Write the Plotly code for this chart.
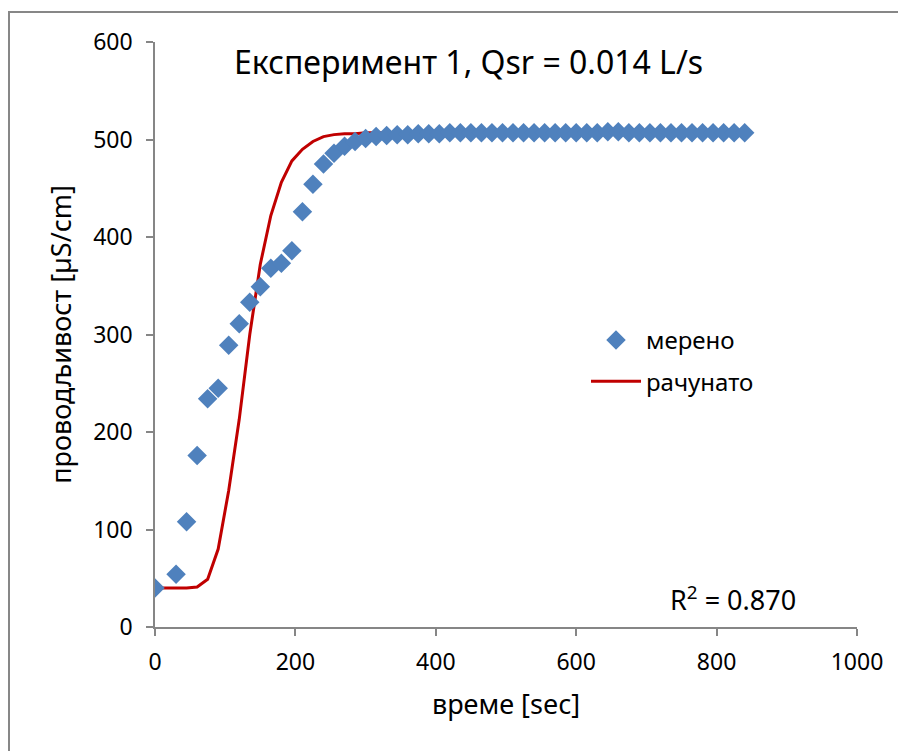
import plotly.graph_objects as go

# measured data (time in s, conductivity in µS/cm)
t_meas = [0, 30, 45, 60, 75, 90, 105, 120, 135, 150, 165, 180, 195, 210, 225, 240,
          255, 270, 285, 300, 315, 330, 345, 360, 375, 390, 405, 420, 435, 450,
          465, 480, 495, 510, 525, 540, 555, 570, 585, 600, 615, 630, 645, 660,
          675, 690, 705, 720, 735, 750, 765, 780, 795, 810, 825, 840]
c_meas = [40, 54, 108, 176, 234, 245, 289, 311, 333, 349, 368, 373, 386, 426, 454, 475,
          486, 493, 498, 501, 503, 504, 505, 505, 506, 506, 506, 507, 507, 507,
          507, 507, 507, 507, 507, 507, 507, 507, 507, 507, 507, 507, 508, 508,
          507, 507, 507, 507, 507, 507, 507, 507, 507, 507, 507, 507]

# calculated model curve
t_calc = [0, 15, 30, 45, 60, 75, 90, 105, 120, 135, 150, 165, 180, 195, 210, 225,
          240, 255, 270, 285, 300, 315, 330, 345, 360, 400, 500, 600, 700, 840]
c_calc = [40, 40, 40, 40, 41, 49, 80, 140, 213, 300, 372, 422, 456, 478, 490, 498,
          503, 505, 506, 506, 507, 507, 507, 507, 507, 507, 507, 507, 507, 507]

title_text = "Експеримент 1, Qsr = 0.014 L/s"
x_title = "време [sec]"
y_title = "проводљивост [µS/cm]"
r2_text = "R<sup>2</sup> = 0.870"

FONT = "Noto Sans"
AXIS_COL = "#868686"

fig = go.Figure()
fig.add_trace(go.Scatter(
    x=t_calc, y=c_calc, mode="lines", name="рачунато",
    line=dict(color="#C00000", width=3), legendgroup="b", legendrank=2))
fig.add_trace(go.Scatter(
    x=t_meas, y=c_meas, mode="markers", name="мерено",
    marker=dict(symbol="diamond", size=15, color="#4F81BD"),
    legendgroup="a", legendrank=1))

fig.update_layout(
    width=906, height=751,
    margin=dict(l=147, r=57, t=34, b=132, autoexpand=False),
    paper_bgcolor="white", plot_bgcolor="white",
    font=dict(family=FONT, size=23, color="black"),
    showlegend=True,
    legend=dict(x=(586 - 155) / 702, y=(627 - 318) / 585, xanchor="left", yanchor="top",
                font=dict(size=24), bgcolor="rgba(0,0,0,0)",
                itemwidth=50,
                traceorder="grouped", tracegroupgap=7),
    xaxis=dict(range=[0, 1000], tickvals=[0, 200, 400, 600, 800, 1000],
               showgrid=False, zeroline=False, showline=True, automargin=False,
               linecolor=AXIS_COL, linewidth=1.5, ticks="outside",
               tickcolor=AXIS_COL, ticklen=7, tickwidth=1.5,
               ticklabelstandoff=7,
               title=dict(text=x_title, font=dict(size=27), standoff=19)),
    yaxis=dict(range=[0, 600], tickvals=[0, 100, 200, 300, 400, 500, 600],
               showgrid=False, zeroline=False, showline=True, automargin=False,
               linecolor=AXIS_COL, linewidth=1.5, ticks="outside",
               tickcolor=AXIS_COL, ticklen=7, tickwidth=1.5,
               ticklabelstandoff=9,
               title=dict(text=y_title, font=dict(size=27), standoff=14)),
)

fig.add_annotation(text=title_text, xref="paper", yref="paper",
                   x=(468 - 155) / 702, y=(627 - 62) / 585,
                   xanchor="center", yanchor="middle", showarrow=False,
                   font=dict(size=32))
fig.add_annotation(text=r2_text, xref="paper", yref="paper",
                   x=(733 - 155) / 702, y=(627 - 598) / 585,
                   xanchor="center", yanchor="middle", showarrow=False,
                   font=dict(size=27))

# chart-area border
fig.add_shape(type="rect", xref="paper", yref="paper",
              x0=(9 - 155) / 702, x1=1.3, y0=-0.5, y1=(627 - 12) / 585,
              line=dict(color="#878787", width=2), layer="below")

fig.write_html("out.html")
